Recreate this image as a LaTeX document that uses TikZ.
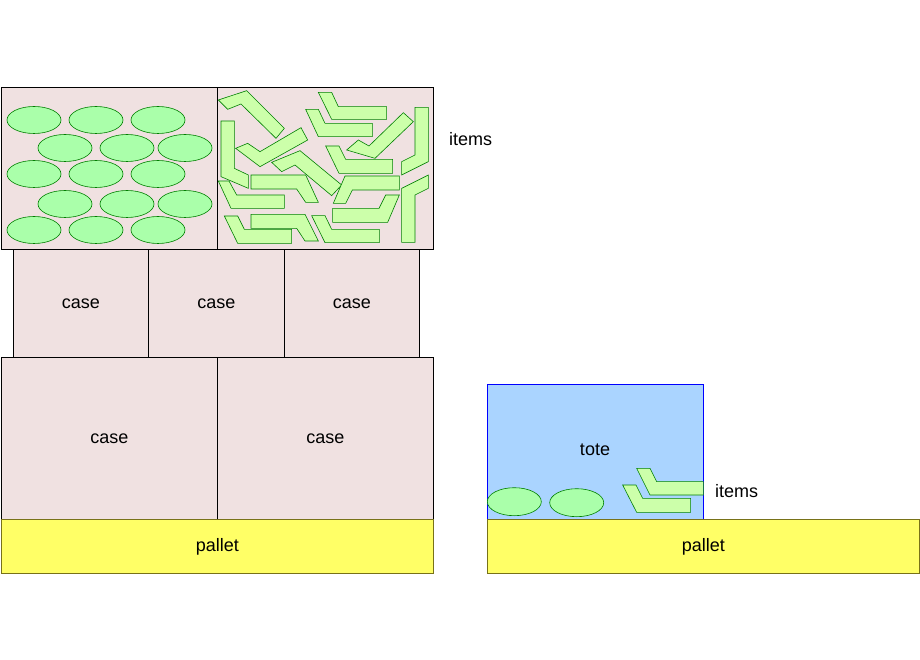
\documentclass[tikz,border=0pt]{standalone}
\usepackage{fontspec}
\setmainfont{Liberation Sans}
\begin{document}
\begin{tikzpicture}[x=1pt,y=-1pt,
 box/.style={draw=black,fill=casec,line width=0.8pt},
 pal/.style={draw=olive!80!black,fill=palc,line width=0.8pt},
 ell/.style={draw=green!50!black,fill=ellc,line width=0.6pt},
 bar/.style={draw=green!50!black,fill=barc,line width=0.6pt,line join=miter},
 lab/.style={font=\fontsize{18}{20}\selectfont,inner sep=0pt}]
\definecolor{casec}{HTML}{F0E1E1}
\definecolor{palc}{HTML}{FFFF66}
\definecolor{totec}{HTML}{AAD4FF}
\definecolor{ellc}{HTML}{AAFFAA}
\definecolor{barc}{HTML}{CCFFAA}
\useasboundingbox (0,0) rectangle (920,660);
% top box
\node[box,minimum width=216pt,minimum height=162pt,anchor=north west,inner sep=0] (tl) at (1,87) {};
\node[box,minimum width=216pt,minimum height=162pt,anchor=north west,inner sep=0] (tr) at (217,87) {};
% middle row
\node[box,minimum width=135pt,minimum height=108pt,anchor=north west,inner sep=0,lab] (m1) at (13,249) {case};
\node[box,minimum width=136pt,minimum height=108pt,anchor=north west,inner sep=0,lab] (m2) at (148,249) {case};
\node[box,minimum width=135pt,minimum height=108pt,anchor=north west,inner sep=0,lab] (m3) at (284,249) {case};
% bottom row
\node[box,minimum width=216pt,minimum height=162pt,anchor=north west,inner sep=0,lab] (b1) at (1,357) {case};
\node[box,minimum width=216pt,minimum height=162pt,anchor=north west,inner sep=0,lab] (b2) at (217,357) {case};
\node[pal,minimum width=432pt,minimum height=54pt,anchor=north west,inner sep=0,lab] (p1) at (1,519) {pallet};
% tote
\node[draw=blue,fill=totec,line width=0.8pt,minimum width=216pt,minimum height=135pt,anchor=north west,inner sep=0] (tote) at (487,384) {};
\node[lab] (totel) at (595,450) {tote};
\node[pal,minimum width=432pt,minimum height=54pt,anchor=north west,inner sep=0,lab] (p2) at (487,519) {pallet};
\node[lab,anchor=west] (it1) at (449,139) {items};
\node[lab,anchor=west] (it2) at (715,491) {items};
% ellipses
\foreach \y/\xs in {120/{34,96,158},148/{65,127,185},174/{34,96,158},204/{65,127,185},230/{34,96,158}}
  \foreach \x in \xs { \draw[ell] (\x,\y) ellipse [x radius=27, y radius=13.5]; }
\draw[ell] (514.3,501.7) ellipse [x radius=27, y radius=14];
\draw[ell] (576.7,502.7) ellipse [x radius=27, y radius=14];
% bars
\begin{scope}[shift={(215,85)},scale=1/3]
\foreach \p in {
 {(10,45)--(95,17)--(208,130)--(183,160)--(78,57)--(38,73)},
 {(310,22)--(350,22)--(370,65)--(515,65)--(515,103)--(350,103)},
 {(272,73)--(310,73)--(330,115)--(472,115)--(472,155)--(310,155)},
 {(18,108)--(58,108)--(58,250)--(100,270)--(100,310)--(18,275)},
 {(62,190)--(98,175)--(135,200)--(258,128)--(278,165)--(135,245)},
 {(395,195)--(430,165)--(462,183)--(565,83)--(595,110)--(480,220)},
 {(600,67)--(640,67)--(640,230)--(560,270)--(560,230)--(600,210)},
 {(170,232)--(255,197)--(380,300)--(350,332)--(240,240)--(200,260)},
 {(332,183)--(372,183)--(392,223)--(533,223)--(533,265)--(372,265)},
 {(108,270)--(272,270)--(310,352)--(272,352)--(245,312)--(108,312)},
 {(10,288)--(42,288)--(65,330)--(208,330)--(208,370)--(48,370)},
 {(355,355)--(390,273)--(553,273)--(553,315)--(412,315)--(392,355)},
 {(353,370)--(492,370)--(512,330)--(553,330)--(518,412)--(353,412)},
 {(560,310)--(640,270)--(640,310)--(600,330)--(600,472)--(560,472)},
 {(28,393)--(68,393)--(88,433)--(230,433)--(230,475)--(68,475)},
 {(108,388)--(270,388)--(310,468)--(270,468)--(245,430)--(108,430)},
 {(290,392)--(330,392)--(350,433)--(493,433)--(493,473)--(330,473)}}
 { \draw[bar] \p -- cycle; }
\end{scope}
\begin{scope}[shift={(480,460)},scale=1/3]
\draw[bar] (470,25)--(510,25)--(530,65)--(670,65)--(670,105)--(510,105)--cycle;
\draw[bar] (428,75)--(468,75)--(488,115)--(632,115)--(632,157)--(470,157)--cycle;
\end{scope}
\end{tikzpicture}
\end{document}
